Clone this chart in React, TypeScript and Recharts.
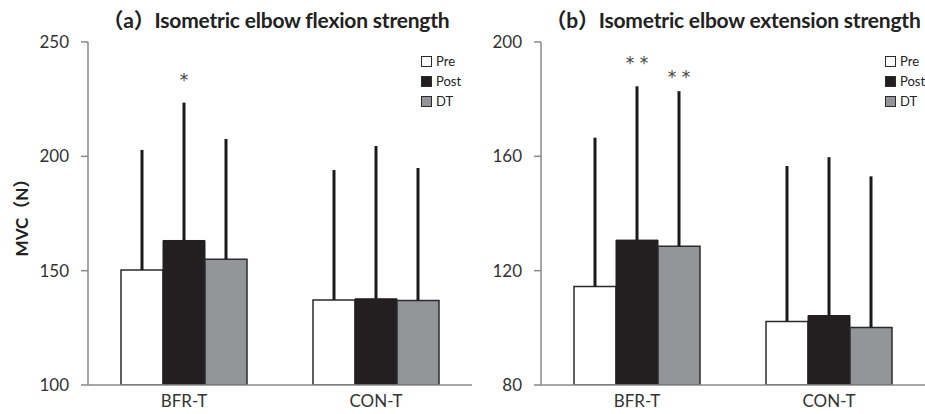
import React from 'react';
import { BarChart, Bar, XAxis, YAxis, ErrorBar, LabelList } from 'recharts';

const groups = ['BFR-T', 'CON-T'];

// (a) flexion
const flexPre = [150.3, 137.2];
const flexPost = [163.2, 137.7];
const flexDT = [155.0, 136.9];
const flexPreSD = [52.5, 56.8];
const flexPostSD = [60.3, 66.8];
const flexDTSD = [52.6, 58.0];
const flexPostSig = ['*', ''];
const flexDTSig = ['', ''];
const flexTicks = [100, 150, 200, 250];

// (b) extension
const extPre = [114.5, 102.2];
const extPost = [130.7, 104.3];
const extDT = [128.5, 100.1];
const extPreSD = [52.0, 54.4];
const extPostSD = [53.8, 55.4];
const extDTSD = [54.3, 52.9];
const extPostSig = ['* *', ''];
const extDTSig = ['* *', ''];
const extTicks = [80, 120, 160, 200];

const seriesNames = ['Pre', 'Post', 'DT'];

const buildRows = (pre: number[], post: number[], dt: number[], preSD: number[], postSD: number[], dtSD: number[], postSig: string[], dtSig: string[]) =>
  groups.map((g, i) => ({
    group: g,
    pre: pre[i],
    post: post[i],
    dt: dt[i],
    preErr: [0, preSD[i]],
    postErr: [0, postSD[i]],
    dtErr: [0, dtSD[i]],
    postSD: postSD[i],
    dtSD: dtSD[i],
    postSig: postSig[i],
    dtSig: dtSig[i],
  }));

const flexRows = buildRows(flexPre, flexPost, flexDT, flexPreSD, flexPostSD, flexDTSD, flexPostSig, flexDTSig);
const extRows = buildRows(extPre, extPost, extDT, extPreSD, extPostSD, extDTSD, extPostSig, extDTSig);

const FONT = 'Lato, "Noto Sans CJK JP", sans-serif';
const AXIS = '#8a8a8a';
const TEXT = '#333';
const EDGE = '#2b2b2b';
const colors = { pre: '#ffffff', post: '#231f20', dt: '#939598' };

// put the asterisks above the error bar top, using the bar's own pixel scale
const sigLabel = (rows: any[], valKey: string, sdKey: string, yMin: number, gap: number) => (props: any) => {
  const { x, y, width, height, index, value } = props;
  if (!value) return null;
  const row = rows[index];
  const pxPerUnit = height / (row[valKey] - yMin);
  const top = y - row[sdKey] * pxPerUnit;
  return (
    <text x={x + width / 2} y={top - gap} textAnchor="middle" fontSize={17} fill="#444" fontFamily='"DejaVu Sans", sans-serif'>
      {value}
    </text>
  );
};

const LegendBox: React.FC<{ left: number }> = ({ left }) => (
  <div style={{ position: 'absolute', top: 51, left, fontFamily: FONT, fontSize: 13, color: '#222', lineHeight: '20px' }}>
    {seriesNames.map((n, i) => (
      <div key={n} style={{ display: 'flex', alignItems: 'center' }}>
        <span
          style={{
            display: 'inline-block',
            width: 9,
            height: 9,
            marginRight: 4,
            border: `1px solid ${EDGE}`,
            background: [colors.pre, colors.post, colors.dt][i],
          }}
        />
        {n}
      </div>
    ))}
  </div>
);

interface PanelProps {
  rows: any[];
  ticks: number[];
  width: number;
  yAxisWidth: number;
  showYLabel?: boolean;
}

const Panel: React.FC<PanelProps> = ({ rows, ticks, width, yAxisWidth, showYLabel }) => {
  const yMin = ticks[0];
  return (
    <BarChart
      width={width}
      height={414}
      data={rows}
      margin={{ top: 42, right: 0, bottom: 0, left: 0 }}
      barGap={0}
      barCategoryGap={0}
    >
      <XAxis
        dataKey="group"
        height={29}
        axisLine={{ stroke: AXIS, strokeWidth: 1.5 }}
        tickLine={false}
        tick={{ fill: TEXT, fontSize: 17, fontFamily: FONT }}
        tickMargin={4}
      />
      <YAxis
        width={yAxisWidth}
        domain={[ticks[0], ticks[ticks.length - 1]]}
        ticks={ticks}
        allowDataOverflow
        axisLine={{ stroke: AXIS, strokeWidth: 1.5 }}
        tickLine={{ stroke: AXIS, strokeWidth: 1.5 }}
        tickSize={7}
        tickMargin={12}
        tick={{ fill: TEXT, fontSize: 17, fontFamily: FONT }}
        label={
          showYLabel
            ? {
                value: 'MVC（N）',
                angle: -90,
                position: 'insideLeft',
                offset: 22,
                style: { fontFamily: FONT, fontSize: 17, fontWeight: 700, fill: '#222', textAnchor: 'middle' },
              }
            : undefined
        }
      />
      <Bar dataKey="pre" name="Pre" barSize={42} fill={colors.pre} stroke={EDGE} strokeWidth={1.5} isAnimationActive={false}>
        <ErrorBar dataKey="preErr" direction="y" width={0} stroke="#1a1a1a" strokeWidth={3} />
      </Bar>
      <Bar dataKey="post" name="Post" barSize={42} fill={colors.post} stroke={colors.post} strokeWidth={1} isAnimationActive={false}>
        <ErrorBar dataKey="postErr" direction="y" width={0} stroke="#1a1a1a" strokeWidth={3} />
        <LabelList dataKey="postSig" content={sigLabel(rows, 'post', 'postSD', yMin, 17)} />
      </Bar>
      <Bar dataKey="dt" name="DT" barSize={42} fill={colors.dt} stroke={EDGE} strokeWidth={1.5} isAnimationActive={false}>
        <ErrorBar dataKey="dtErr" direction="y" width={0} stroke="#1a1a1a" strokeWidth={3} />
        <LabelList dataKey="dtSig" content={sigLabel(rows, 'dt', 'dtSD', yMin, 8)} />
      </Bar>
    </BarChart>
  );
};

const titleStyle: React.CSSProperties = {
  position: 'absolute',
  top: 4,
  fontFamily: FONT,
  fontSize: 21,
  fontWeight: 700,
  color: '#222',
  whiteSpace: 'nowrap',
  transform: 'translateX(-50%)',
  letterSpacing: -0.2,
};

export default function App() {
  return (
    <div style={{ position: 'absolute', left: 0, top: 0, width: 925, height: 414, background: '#fff', overflow: 'hidden' }}>
      <div style={{ ...titleStyle, left: 276 }}>（a）Isometric elbow flexion strength</div>
      <div style={{ ...titleStyle, left: 733 }}>（b）Isometric elbow extension strength</div>
      <div style={{ position: 'absolute', left: 0, top: 0 }}>
        <Panel rows={flexRows} ticks={flexTicks} width={472} yAxisWidth={88} showYLabel />
      </div>
      <div style={{ position: 'absolute', left: 472, top: 0 }}>
        <Panel rows={extRows} ticks={extTicks} width={453} yAxisWidth={69} />
      </div>
      <LegendBox left={421} />
      <LegendBox left={885} />
    </div>
  );
}
